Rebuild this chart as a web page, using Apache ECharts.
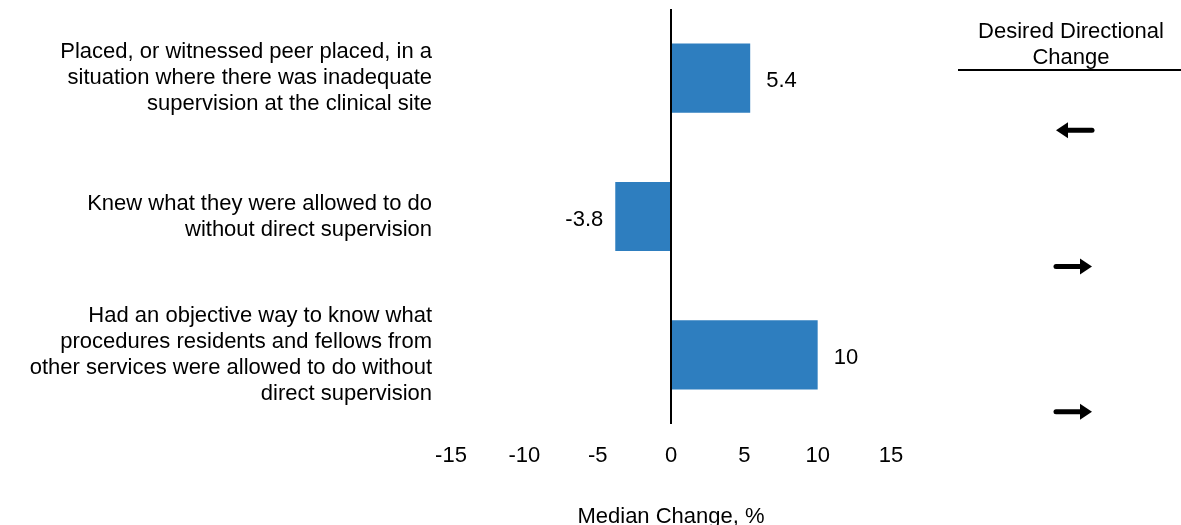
<!DOCTYPE html>
<html>
<head>
<meta charset="utf-8">
<script src="https://cdn.jsdelivr.net/npm/echarts@6/dist/echarts.min.js"></script>
<style>
  html, body { margin: 0; padding: 0; background: #fff; }
  #chart { width: 1181px; height: 525px; }
</style>
</head>
<body>
<div id="chart"></div>
<script>
// datos del grafico
var categorias = [
    'Placed, or witnessed peer placed, in a\nsituation where there was inadequate\nsupervision at the clinical site',
    'Knew what they were allowed to do\nwithout direct supervision',
    'Had an objective way to know what\nprocedures residents and fellows from\nother services were allowed to do without\ndirect supervision'
];
var mediana_cambio = [5.4, -3.8, 10];
var direccion_deseada = ['left', 'right', 'right'];
var ticks_x = [-15, -10, -5, 0, 5, 10, 15];

var color_barra = '#2e7ebf';
var fuente = 'Liberation Sans, Arial, sans-serif';

var chart = echarts.init(document.getElementById('chart'));

var datos = mediana_cambio.map(function(v) {
    return {
        value: v,
        label: { position: v < 0 ? 'left' : 'right', distance: v < 0 ? 12 : 16 }
    };
});

var option = {
    animation: false,
    textStyle: { fontFamily: fuente },
    grid: { left: 451, width: 440, top: 9, height: 415, outerBoundsMode: 'none', containLabel: false },
    xAxis: {
        type: 'value',
        min: ticks_x[0],
        max: ticks_x[ticks_x.length - 1],
        interval: 5,
        axisLine: { show: false },
        axisTick: { show: false },
        splitLine: { show: false },
        axisLabel: { color: '#000', fontSize: 22, margin: 21 },
        name: 'Median Change, %',
        nameLocation: 'middle',
        nameGap: 82,
        nameTextStyle: { color: '#000', fontSize: 22 }
    },
    yAxis: {
        type: 'category',
        inverse: true,
        data: categorias,
        axisLine: { show: false, onZero: false },
        axisTick: { show: false },
        axisLabel: {
            color: '#000',
            fontSize: 22,
            lineHeight: 26,
            align: 'right',
            margin: 19
        }
    },
    series: [{
        type: 'bar',
        data: datos,
        barWidth: '50%',
        itemStyle: { color: color_barra },
        label: { show: true, color: '#000', fontSize: 22, offset: [0, 3] },
        markLine: {
            silent: true,
            symbol: 'none',
            label: { show: false },
            lineStyle: { color: '#000', width: 2, type: 'solid' },
            data: [{ xAxis: 0 }]
        }
    }]
};

chart.setOption(option);

// flechas de direccion deseada + encabezado
var graficos = [
    {
        type: 'text',
        x: 1071, y: 19,
        style: {
            text: 'Desired Directional\nChange',
            align: 'center',
            fill: '#000',
            font: '22px ' + fuente,
            lineHeight: 26
        }
    },
    {
        type: 'line',
        shape: { x1: 958, y1: 70, x2: 1181, y2: 70 },
        style: { stroke: '#000', lineWidth: 2 }
    }
];

var desfase = [52, 50, 57];
direccion_deseada.forEach(function(d, i) {
    var y = chart.convertToPixel({ yAxisIndex: 0 }, i) + desfase[i];
    var x1 = 1056, x2 = 1092;
    var punta = d === 'left' ? x1 : x2;
    var cola = d === 'left' ? x2 : x1;
    var s = d === 'left' ? 1 : -1;
    graficos.push({
        type: 'line',
        shape: { x1: cola, y1: y, x2: punta + s * 8, y2: y },
        style: { stroke: '#000', lineWidth: 5, lineCap: 'round' }
    });
    graficos.push({
        type: 'polygon',
        shape: { points: [[punta, y], [punta + s * 12, y - 8], [punta + s * 12, y + 8]] },
        style: { fill: '#000' }
    });
});

chart.setOption({ graphic: graficos });
</script>
</body>
</html>
